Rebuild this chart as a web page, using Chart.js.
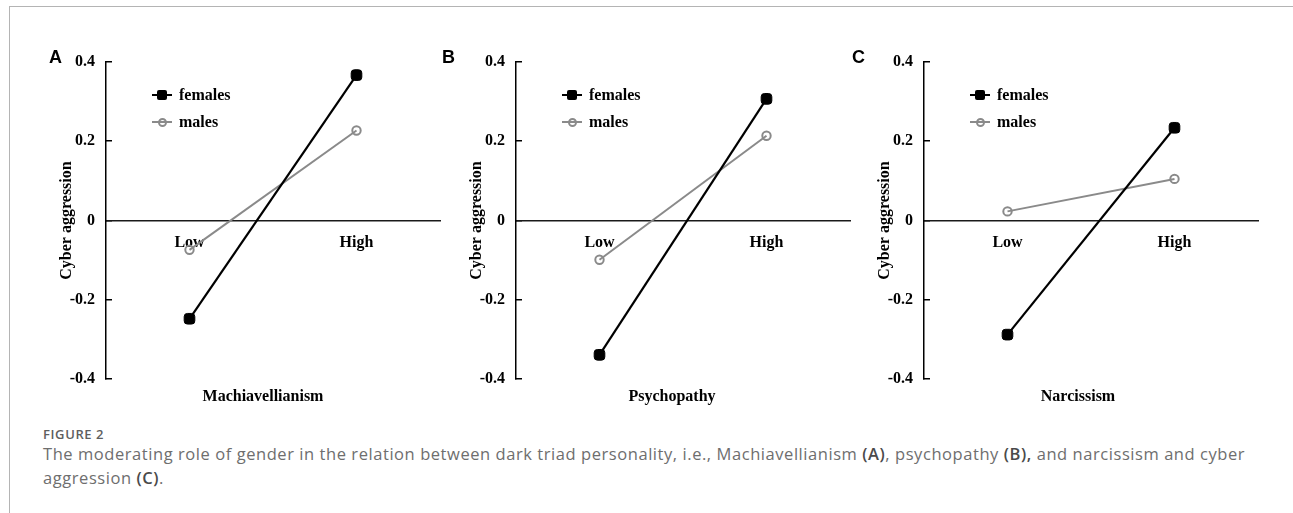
<!DOCTYPE html>
<html>
<head>
<meta charset="utf-8">
<script src="https://cdn.jsdelivr.net/npm/chart.js@4.4.1/dist/chart.umd.min.js"></script>
<style>
  html, body { margin: 0; padding: 0; background: #fff; width: 1293px; height: 513px; overflow: hidden; }
  #wrap { position: relative; width: 1293px; height: 513px; }
  .frameTop { position: absolute; left: 9px; top: 6px; width: 1284px; height: 1px; background: #b4b4b4; }
  .frameLeft { position: absolute; left: 9px; top: 6px; width: 1px; height: 507px; background: #b4b4b4; }
  canvas { position: absolute; top: 0; }
  .letter { position: absolute; font-family: 'Liberation Sans', Arial, sans-serif; font-weight: bold; font-size: 18px; line-height: 18px; color: #000; }
  .legend { position: absolute; font-family: 'Liberation Serif', 'Times New Roman', serif; font-weight: bold; font-size: 16px; color: #000; }
  .legend .item { position: absolute; left: 0; height: 20px; white-space: nowrap; }
  .legend .ln { position: absolute; left: 0; width: 20px; height: 2px; }
  .legend .mk { position: absolute; box-sizing: border-box; }
  .legend .tx { position: absolute; left: 27px; top: 0; line-height: 20px; }
  .caption { position: absolute; left: 43px; font-family: 'Open Sans', 'Noto Sans', sans-serif; color: #6e6e6e; white-space: nowrap; }
  .caption b { color: #4a4a4a; font-weight: 600; }
</style>
</head>
<body>
<div id="wrap">
  <div class="frameTop"></div>
  <div class="frameLeft"></div>
</div>
<script>
// ---------------- data ----------------
const categories = ['Low', 'High'];
const seriesNames = ['females', 'males'];
const panelLetters = ['A', 'B', 'C'];
const xTitles = ['Machiavellianism', 'Psychopathy', 'Narcissism'];
const yTitle = 'Cyber aggression';
const yTickValues = [-0.4, -0.2, 0, 0.2, 0.4];
const yTickLabels = ['-0.4', '-0.2', '0', '0.2', '0.4'];
const femalesA = [-0.248, 0.367];
const malesA = [-0.074, 0.227];
const femalesB = [-0.339, 0.307];
const malesB = [-0.099, 0.214];
const femalesC = [-0.288, 0.234];
const malesC = [0.023, 0.105];
const captionLabel = 'FIGURE 2';

// ---------------- layout (positions only) ----------------
const panels = [
  { canvasLeft: 0,   axisLeft: 106, axisRight: 440, titleCenter: 263,  letterX: 49,  fem: femalesA, mal: malesA },
  { canvasLeft: 420, axisLeft: 516, axisRight: 850, titleCenter: 672,  letterX: 442, fem: femalesB, mal: malesB },
  { canvasLeft: 850, axisLeft: 924, axisRight: 1258, titleCenter: 1078, letterX: 852, fem: femalesC, mal: malesC }
];
const CANVAS_H = 420;
const AREA_TOP = 62;
const AREA_BOTTOM = 379;
const serif = "'Liberation Serif', 'Times New Roman', serif";
const FEM_COLOR = '#000000';
const MAL_COLOR = '#8a8a8a';

const wrap = document.getElementById('wrap');

panels.forEach((p, i) => {
  const W = Math.round(2 * (p.titleCenter - p.canvasLeft));
  const yWidth = p.axisLeft - p.canvasLeft;
  const rWidth = p.canvasLeft + W - p.axisRight;
  const cv = document.createElement('canvas');
  cv.width = W; cv.height = CANVAS_H;
  cv.style.left = p.canvasLeft + 'px';
  cv.style.width = W + 'px'; cv.style.height = CANVAS_H + 'px';
  wrap.appendChild(cv);

  const titleH = 16 * 1.2 + 8;
  new Chart(cv.getContext('2d'), {
    type: 'line',
    data: {
      labels: categories,
      datasets: [
        {
          label: seriesNames[0], data: p.fem,
          borderColor: FEM_COLOR, backgroundColor: FEM_COLOR, borderWidth: 2.2,
          pointStyle: 'rectRounded', pointRadius: 6.2, pointBorderWidth: 1,
          pointBackgroundColor: FEM_COLOR, pointBorderColor: FEM_COLOR, tension: 0
        },
        {
          label: seriesNames[1], data: p.mal,
          borderColor: MAL_COLOR, backgroundColor: 'rgba(0,0,0,0)', borderWidth: 2,
          pointStyle: 'circle', pointRadius: 4.2, pointBorderWidth: 2,
          pointBackgroundColor: 'rgba(0,0,0,0)', pointBorderColor: MAL_COLOR, tension: 0
        }
      ]
    },
    options: {
      responsive: false, maintainAspectRatio: false, animation: false,
      layout: { padding: { top: AREA_TOP, left: 0, right: 0, bottom: CANVAS_H - AREA_BOTTOM - titleH } },
      plugins: {
        legend: { display: false },
        tooltip: { enabled: false },
        title: {
          display: true, position: 'bottom', fullSize: true,
          text: xTitles[i], color: '#000',
          font: { family: serif, weight: 'bold', size: 16 },
          padding: { top: 8, bottom: 0 }
        }
      },
      scales: {
        x: {
          type: 'category', offset: true,
          position: { y: 0 },
          grid: { display: false, drawTicks: false },
          border: { display: true, color: '#1a1a1a', width: 1.5 },
          ticks: { color: '#000', font: { family: serif, weight: 'bold', size: 16 }, padding: 13, maxRotation: 0 },
          afterFit: s => { s.height = 0; }
        },
        y: {
          position: 'left', min: -0.4, max: 0.4,
          afterBuildTicks: s => { s.ticks = yTickValues.map(v => ({ value: v })); },
          grid: { display: true, drawOnChartArea: false, drawTicks: true, tickLength: -6, color: '#000', lineWidth: 1.5 },
          border: { display: true, color: '#000', width: 1.5 },
          ticks: {
            color: '#000', font: { family: serif, weight: 'bold', size: 16 }, padding: 17,
            callback: (v, idx) => yTickLabels[idx]
          },
          title: {
            display: true, text: yTitle, color: '#000',
            font: { family: serif, weight: 'bold', size: 16 },
            padding: { top: (p.axisLeft - 39 - 9.6) - p.canvasLeft, bottom: 0 }
          },
          afterFit: s => { s.width = yWidth; }
        },
        yR: {
          position: 'right', display: true,
          grid: { display: false, drawTicks: false }, border: { display: false },
          ticks: { display: false },
          afterFit: s => { s.width = rWidth; }
        }
      }
    }
  });

  // panel letter
  const L = document.createElement('div');
  L.className = 'letter';
  L.textContent = panelLetters[i];
  L.style.left = p.letterX + 'px';
  L.style.top = '48px';
  wrap.appendChild(L);

  // legend (inside plot area, top-left)
  const lg = document.createElement('div');
  lg.className = 'legend';
  lg.style.left = (p.axisLeft + 46) + 'px';
  lg.style.top = '0px';
  lg.innerHTML =
    '<div class="item" style="top:85px">' +
      '<div class="ln" style="top:9px;background:' + FEM_COLOR + '"></div>' +
      '<div class="mk" style="left:5px;top:5px;width:10px;height:10px;border-radius:2px;background:' + FEM_COLOR + '"></div>' +
      '<div class="tx">' + seriesNames[0] + '</div></div>' +
    '<div class="item" style="top:112px">' +
      '<div class="ln" style="top:9px;background:' + MAL_COLOR + '"></div>' +
      '<div class="mk" style="left:5.5px;top:5.5px;width:9px;height:9px;border-radius:50%;border:2px solid ' + MAL_COLOR + ';background:#fff"></div>' +
      '<div class="ln" style="top:9px;left:7px;width:6px;background:' + MAL_COLOR + '"></div>' +
      '<div class="tx">' + seriesNames[1] + '</div></div>';
  wrap.appendChild(lg);
});

// caption
const c1 = document.createElement('div');
c1.className = 'caption';
c1.style.top = '426px';
c1.style.fontSize = '13px';
c1.style.lineHeight = '16px';
c1.style.fontWeight = '600';
c1.style.letterSpacing = '0.6px';
c1.style.color = '#5e5e5e';
c1.textContent = captionLabel;
wrap.appendChild(c1);

const c2 = document.createElement('div');
c2.className = 'caption';
c2.style.top = '442px';
c2.style.fontSize = '16.5px';
c2.style.lineHeight = '24px';
c2.style.letterSpacing = '0.56px';
c2.innerHTML = 'The moderating role of gender in the relation between dark triad personality, i.e., Machiavellianism <b>(A)</b>, psychopathy <b>(B),</b> and narcissism and cyber<br>aggression <b>(C)</b>.';
wrap.appendChild(c2);
</script>
</body>
</html>
